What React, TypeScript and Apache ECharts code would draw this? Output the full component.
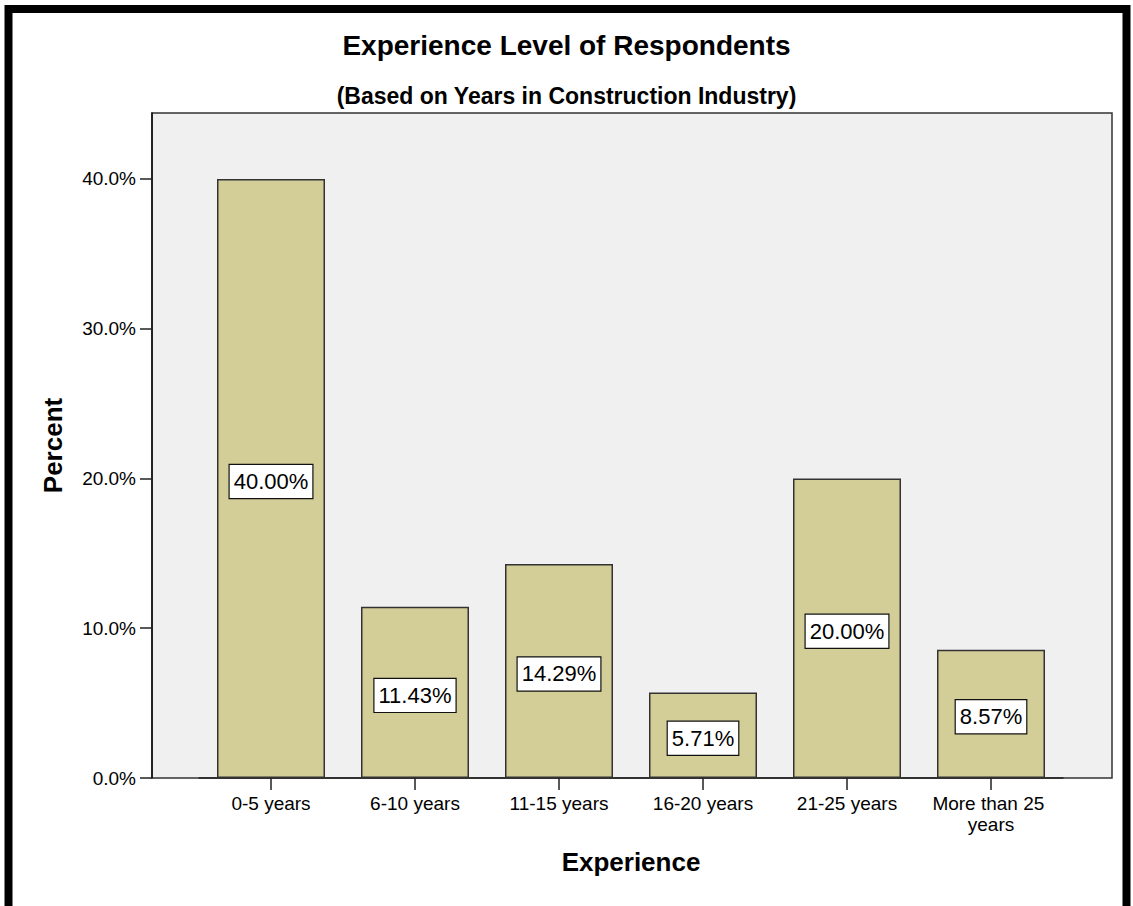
import React, { useEffect, useRef } from "react";
import * as echarts from "echarts";

// Experience categories and the share of respondents in each (percent)
const categories = [
  "0-5 years",
  "6-10 years",
  "11-15 years",
  "16-20 years",
  "21-25 years",
  "More than 25 years",
];
const percents = [40.0, 11.43, 14.29, 5.71, 20.0, 8.57];
const yTicks = { min: 0, max: 44.4, interval: 10 };

const FONT = "Arial, 'Liberation Sans', sans-serif";

export default function App() {
  const ref = useRef<HTMLDivElement>(null);

  useEffect(() => {
    if (!ref.current) return;
    const chart = echarts.init(ref.current, undefined, { renderer: "svg" });

    const option: echarts.EChartsOption = {
      animation: false,
      backgroundColor: "#ffffff",
      title: [
        {
          text: "Experience Level of Respondents",
          left: "center",
          top: 26,
          textStyle: { fontFamily: FONT, fontSize: 28, fontWeight: "bold", color: "#000" },
        },
        {
          text: "(Based on Years in Construction Industry)",
          left: "center",
          top: 79,
          textStyle: { fontFamily: FONT, fontSize: 23, fontWeight: "bold", color: "#000" },
        },
      ],
      graphic: [
        // outer black frame
        {
          type: "rect",
          z: 0,
          silent: true,
          shape: { x: 8.5, y: 9, width: 1118, height: 930 },
          style: { fill: "none", stroke: "#000", lineWidth: 8 },
        },
        // plot area background and frame
        {
          type: "rect",
          z: -1,
          silent: true,
          shape: { x: 152, y: 113, width: 960, height: 665 },
          style: { fill: "#f0f0f0", stroke: "#333", lineWidth: 1.5 },
        },
      ],
      grid: { left: 199, right: 70, top: 113, bottom: 128, containLabel: false },
      xAxis: {
        type: "category",
        data: categories,
        name: "Experience",
        nameLocation: "middle",
        nameGap: 71,
        nameTextStyle: { fontFamily: FONT, fontSize: 26, fontWeight: "bold", color: "#000" },
        axisLine: { show: true, lineStyle: { color: "#222", width: 1.5 } },
        axisTick: { show: true, alignWithLabel: true, length: 12, lineStyle: { color: "#222", width: 1.5 } },
        axisLabel: {
          interval: 0,
          margin: 15,
          fontFamily: FONT,
          fontSize: 19,
          color: "#000",
          width: 150,
          overflow: "break",
          lineHeight: 21,
        },
      },
      yAxis: {
        type: "value",
        min: yTicks.min,
        max: yTicks.max,
        interval: yTicks.interval,
        offset: 47,
        name: "Percent",
        nameLocation: "middle",
        nameGap: 86,
        nameTextStyle: { fontFamily: FONT, fontSize: 26, fontWeight: "bold", color: "#000" },
        splitLine: { show: false },
        axisLine: { show: true, lineStyle: { color: "#111", width: 1.5 } },
        axisTick: { show: true, length: 12, lineStyle: { color: "#222", width: 1.5 } },
        axisLabel: {
          margin: 16,
          fontFamily: FONT,
          fontSize: 19,
          color: "#000",
          formatter: (v: number) => v.toFixed(1) + "%",
          showMaxLabel: false,
        },
      },
      series: [
        {
          type: "bar",
          data: percents,
          barWidth: 108,
          itemStyle: { color: "#d3ce97", borderColor: "#333", borderWidth: 1.5 },
          label: {
            show: true,
            position: "inside",
            offset: [0, 3],
            formatter: (p: any) => Number(p.value).toFixed(2) + "%",
            fontFamily: FONT,
            fontSize: 22,
            color: "#000",
            backgroundColor: "#ffffff",
            borderColor: "#111",
            borderWidth: 1.2,
            padding: [6, 4, 5, 4],
          },
        },
      ],
    };

    chart.setOption(option);
    return () => chart.dispose();
  }, []);

  return (
    <div
      ref={ref}
      style={{ position: "absolute", left: 0, top: 0, width: 1133, height: 906 }}
    />
  );
}
